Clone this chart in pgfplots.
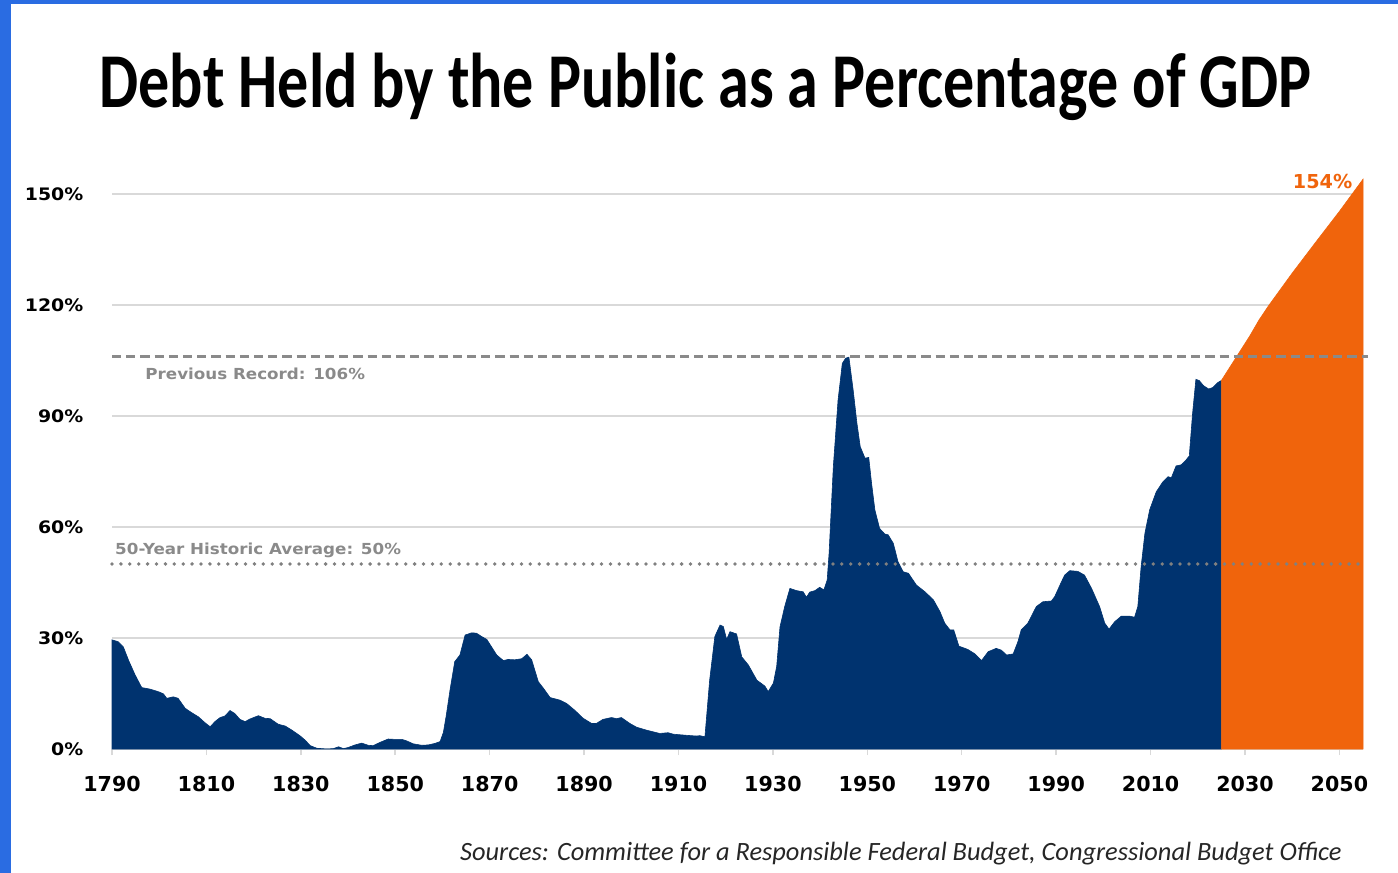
\documentclass[border=0pt]{standalone}
\usepackage{fontspec}
\usepackage{pgfplots}
\pgfplotsset{compat=1.18}
\setmainfont{DejaVu Sans}
\newfontfamily\titlefont[FakeStretch=0.8]{Carlito}
\newfontfamily\srcfont{Carlito}
\newfontfamily\ytfont[FakeStretch=1.1]{DejaVu Sans}
\definecolor{navy}{RGB}{0,51,111}
\definecolor{orng}{RGB}{240,100,12}
\definecolor{frameblue}{RGB}{42,108,226}
\definecolor{refgray}{RGB}{138,138,138}
\definecolor{dotgray}{RGB}{128,128,128}
\definecolor{gridgray}{RGB}{217,217,217}

\pgfplotstableread{
year value
1790 29.5
1791.3 29.0
1792.4 27.6
1793.5 24.0
1794.9 20.0
1796.3 16.6
1798 16.2
1799.8 15.5
1800.9 14.9
1801.6 13.7
1803 14.1
1804 13.7
1805.5 11.0
1806.9 9.8
1808.3 8.7
1809.7 7.1
1810.8 6.0
1811.8 7.4
1812.9 8.5
1813.9 8.9
1815 10.4
1816 9.6
1817.1 8.0
1818.2 7.4
1819.2 8.1
1821 9.0
1822.4 8.3
1823.5 8.2
1825.2 6.7
1826.7 6.2
1828.1 5.1
1829.8 3.6
1830.9 2.4
1832 0.9
1833.4 0.2
1835.5 0.0
1836.9 0.1
1838 0.6
1839 0.1
1840 0.4
1841.5 1.1
1842.9 1.6
1844.3 1.0
1845.3 0.9
1846.8 1.8
1848.5 2.7
1849.9 2.6
1851.4 2.6
1852.4 2.2
1853.8 1.4
1855.6 1.0
1857 1.1
1858.4 1.5
1859.5 2.0
1860.2 4.5
1860.8 9.0
1861.6 15.9
1862.6 23.6
1863.7 25.4
1864.8 30.8
1866.2 31.4
1867.2 31.3
1868.3 30.4
1869.4 29.6
1870.4 27.6
1871.5 25.4
1872.9 23.9
1873.9 24.2
1875.3 24.1
1876.8 24.4
1877.9 25.6
1878.9 24.1
1880.3 18.2
1881.4 16.4
1882.8 13.9
1884.9 13.2
1886.3 12.3
1888 10.5
1889.8 8.3
1891.6 6.9
1892.6 6.9
1894 8.0
1895.8 8.5
1896.9 8.2
1897.9 8.5
1899.7 6.9
1901.1 5.9
1903.2 5.1
1906 4.2
1907.8 4.4
1908.9 4.0
1911.7 3.7
1913.8 3.5
1914.5 3.6
1915.6 3.3
1916.6 18.6
1917.7 30.4
1918.8 33.5
1919.5 33.1
1920.2 29.6
1920.9 31.7
1922.3 31.1
1923.4 24.9
1924.8 22.7
1926.6 18.6
1928.3 17.0
1929 15.5
1930.1 17.8
1930.8 22.3
1931.5 33.0
1932.5 38.5
1933.6 43.4
1935 42.8
1936.4 42.5
1937.1 41.0
1937.8 42.4
1938.9 42.8
1939.9 43.7
1940.8 43.0
1941.5 45.7
1941.9 52.9
1942.8 76.3
1943.8 94.3
1944.7 104.2
1945.4 105.6
1946.1 105.9
1947 97.0
1947.8 88.0
1948.5 81.7
1949.5 78.6
1950.3 78.8
1950.9 71.8
1951.6 64.6
1952.6 59.6
1953.7 58.1
1954.4 57.9
1955.5 55.6
1956.5 50.6
1957.6 47.9
1958.7 47.5
1960.4 44.3
1962.2 42.5
1964 40.3
1965.4 37.1
1966.4 34.0
1967.5 32.2
1968.3 32.2
1969.4 27.8
1971.3 26.9
1972.8 25.7
1974.2 23.9
1975.6 26.3
1977.3 27.2
1978.4 26.7
1979.5 25.4
1980.9 25.7
1981.9 29.0
1982.6 32.2
1984 34.0
1985.8 38.5
1987.2 39.8
1989 40.0
1989.7 41.2
1990.8 44.3
1991.8 47.0
1992.9 48.2
1994.6 48.0
1996 47.0
1997.5 43.4
1999.2 38.5
2000.3 34.0
2001.2 32.4
2002.4 34.4
2003.8 35.9
2005.6 35.9
2006.6 35.6
2007.3 38.5
2008 49.3
2008.8 58.3
2009.8 64.6
2011.2 69.5
2012.6 72.2
2013.7 73.6
2014.4 73.3
2014.9 74.9
2015.4 76.5
2016.5 76.8
2017.5 78.1
2018.2 79.2
2018.9 90.7
2019.6 99.9
2020.3 99.6
2021.2 98.2
2022.3 97.3
2023.2 97.7
2024.2 99.0
2025 99.6
}\histdata

\pgfplotstableread{
year value
2025 99.6
2026 101.6
2027 103.6
2028 105.6
2029 107.6
2030 109.6
2031 111.6
2032 113.8
2033 116.0
2035 119.8
2040 128.6
2045 137.0
2050 145.3
2055 154.0
}\projdata

\begin{document}
\begin{tikzpicture}
\useasboundingbox (0pt,0pt) rectangle (699pt,436.5pt);
\fill[white] (0pt,0pt) rectangle (699pt,436.5pt);
\fill[frameblue] (0pt,0pt) rectangle (5.5pt,436.5pt);
\fill[frameblue] (0pt,434.7pt) rectangle (699pt,436.5pt);
\node[font=\titlefont\bfseries\fontsize{38.8}{42}\selectfont, anchor=base, inner sep=0pt] at (352.75pt,382.75pt) {Debt Held by the Public as a Percentage of GDP};
\node[font=\srcfont\itshape\fontsize{13.2}{15}\selectfont, text=black!85, anchor=base east, inner sep=0pt] at (671pt,6pt) {Sources: Committee for a Responsible Federal Budget, Congressional Budget Office};
\begin{axis}[
  at={(56pt,62pt)}, anchor=south west,
  scale only axis, width=625.5pt, height=284.9pt,
  xmin=1790, xmax=2055, ymin=0, ymax=154,
  clip=false,
  axis line style={draw=none},
  ymajorgrids, grid style={gridgray, line width=0.75pt},
  xtick={1790,1810,...,2050},
  xticklabels={1790,1810,1830,1850,1870,1890,1910,1930,1950,1970,1990,2010,2030,2050},
  ytick={0,30,60,90,120,150},
  yticklabels={0\%,30\%,60\%,90\%,120\%,150\%},
  xtick pos=bottom, ytick pos=left,
  tick align=outside, major tick length=3pt,
  xtick style={gridgray, line width=0.75pt},
  ytick style={draw=none},
  xticklabel style={font=\bfseries\fontsize{10.3}{12}\selectfont, yshift=-7pt},
  yticklabel style={font=\ytfont\bfseries\fontsize{8.6}{10}\selectfont, anchor=east, xshift=-7.8pt},
]
\addplot[fill=navy, draw=navy, line width=0.3pt] table[x=year,y=value]{\histdata} \closedcycle;
\addplot[fill=orng, draw=orng, line width=0.3pt] table[x=year,y=value]{\projdata} \closedcycle;
\addplot[refgray, line width=1.6pt, dash pattern=on 4.6pt off 2.5pt] coordinates {(1790,106) (2056,106)};
\addplot[dotgray, line width=1.9pt, line cap=round, dash pattern=on 0pt off 4.45pt] coordinates {(1790,50) (2054,50)};
\node[font=\ytfont\bfseries\fontsize{7.6}{9}\selectfont, text=refgray, anchor=west, inner sep=0pt] at (axis cs:1797,101.4) {Previous Record: 106\%};
\node[font=\ytfont\bfseries\fontsize{7.6}{9}\selectfont, text=refgray, anchor=west, inner sep=0pt] at (axis cs:1790.6,53.8) {50-Year Historic Average: 50\%};
\node[font=\bfseries\fontsize{9.6}{11}\selectfont, text=orng, anchor=east, inner sep=0pt] at (axis cs:2052.8,153.5) {154\%};
\end{axis}
\end{tikzpicture}
\end{document}
